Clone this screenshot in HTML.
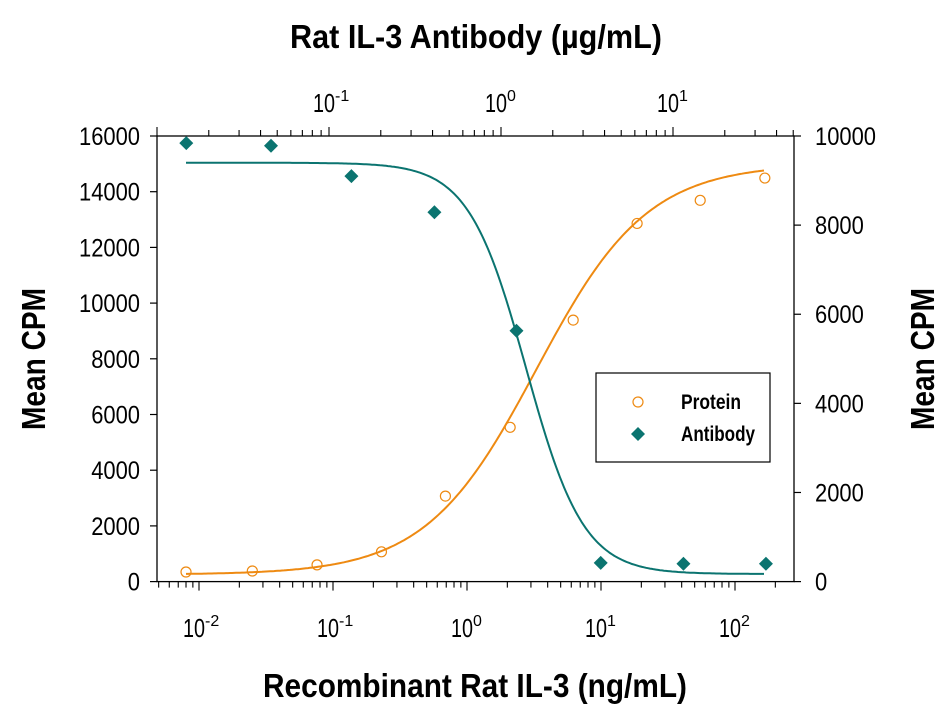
<!DOCTYPE html>
<html><head><meta charset="utf-8"><style>
html,body{margin:0;padding:0;background:#fff;}
svg{display:block;font-family:"Liberation Sans Narrow","Liberation Sans",sans-serif;}
</style></head><body>
<svg id="chart" width="951" height="714" viewBox="0 0 951 714" xmlns="http://www.w3.org/2000/svg">
<g id="axes"></g>
<g id="series"></g>
<text x="476" y="48" text-anchor="middle" font-size="33" font-weight="bold" textLength="372" lengthAdjust="spacingAndGlyphs">Rat IL-3 Antibody (µg/mL)</text>
<text x="475" y="697" text-anchor="middle" font-size="33" font-weight="bold" textLength="424" lengthAdjust="spacingAndGlyphs">Recombinant Rat IL-3 (ng/mL)</text>
<text transform="translate(45,359) rotate(-90)" text-anchor="middle" font-size="33" font-weight="bold" textLength="142" lengthAdjust="spacingAndGlyphs">Mean CPM</text>
<text transform="translate(934,359) rotate(-90)" text-anchor="middle" font-size="33" font-weight="bold" textLength="142" lengthAdjust="spacingAndGlyphs">Mean CPM</text>
<g>
<rect x="596" y="373" width="174" height="89" fill="#fff" stroke="#000" stroke-width="1.2"/>
<circle cx="638" cy="402" r="5" fill="none" stroke="#ee8a12" stroke-width="1.2"/>
<text x="681" y="409" font-size="21" font-weight="bold" textLength="60" lengthAdjust="spacingAndGlyphs">Protein</text>
<path d="M638,427 l7,7 l-7,7 l-7,-7z" fill="#0b7470"/>
<text x="681" y="441" font-size="21" font-weight="bold" textLength="74" lengthAdjust="spacingAndGlyphs">Antibody</text>
</g>
</svg>
<script>
const proteinX=[0.008,0.025,0.076,0.23,0.69,2.1,6.2,18.6,55,167];
const proteinY=[345,380,600,1070,3070,5540,9390,12860,13690,14490];
const antibodyX=[0.0148,0.046,0.135,0.41,1.23,3.8,11.5,34.7];
const antibodyY=[9840,9780,9100,8290,5630,420,400,400];
const proteinFit=[250,15000,3.3,1.05];   // bottom, top, EC50, hill
const antibodyFit=[170,9400,1.4,2.6];
const leftTicks=[0,2000,4000,6000,8000,10000,12000,14000,16000];
const rightTicks=[0,2000,4000,6000,8000,10000];
const bottomDecades=[-2,-1,0,1,2];
const topDecades=[-1,0,1];

const NS="http://www.w3.org/2000/svg";
const L=157,R=794,T=136,B=581.6;
const xB=v=>467+134*Math.log10(v);
const xT=v=>501+172*Math.log10(v);
const yL=v=>B-(B-T)*v/16000;
const yR=v=>B-(B-T)*v/10000;
function mk(tag,attrs,parent){const e=document.createElementNS(NS,tag);for(const k in attrs)e.setAttribute(k,attrs[k]);parent.appendChild(e);return e;}
const ax=document.getElementById('axes'),se=document.getElementById('series');
let fr=mk('rect',{x:L,y:T,width:R-L,height:B-T,fill:'none',stroke:'#000','stroke-width':1.3},ax);


function numLen(s){return s.length*12.2;}
leftTicks.forEach(v=>{const y=yL(v);
 let t=mk('line',{x1:L-7,x2:L,y1:y,y2:y,stroke:'#000','stroke-width':1.2},ax);
 
 
 let tx=mk('text',{x:140,y:y+9,'text-anchor':'end','font-size':25,textLength:numLen(String(v)),lengthAdjust:'spacingAndGlyphs'},ax);tx.textContent=v;
 
 });
rightTicks.forEach(v=>{const y=yR(v);
 let t=mk('line',{x1:R,x2:R+7,y1:y,y2:y,stroke:'#000','stroke-width':1.2},ax);
 
 
 let tx=mk('text',{x:815,y:y+9,'font-size':25,textLength:numLen(String(v)),lengthAdjust:'spacingAndGlyphs'},ax);tx.textContent=v;
 
 });
function logTicks(decs,xf,y,dir,labY,name){
 const lo=decs[0]-1,hi=decs[decs.length-1]+1;
 for(let d=lo;d<=hi;d++)for(let m=1;m<10;m++){const x=xf(m*Math.pow(10,d));if(x<L-1||x>R+1)continue;
  const len=m===1?9:6;
  let t=mk('line',{x1:x,x2:x,y1:y,y2:y+dir*len,stroke:'#000','stroke-width':1.1},ax);
  
  }
 decs.forEach(d=>{const x=xf(Math.pow(10,d));
  let tx=mk('text',{x:x-16,y:labY,'font-size':26},ax);
  
  
  let b=mk('tspan',{textLength:22,lengthAdjust:'spacingAndGlyphs'},tx);b.textContent='10';
  let s=mk('tspan',{dy:-11,'font-size':16},tx);s.textContent=String(d);});
}
logTicks(bottomDecades,xB,B,1,637,'bottom');
logTicks(topDecades,xT,T,-1,112,'top');
function curve(fit,inv,yf,color,name,rising){
 let d='';for(let px=186;px<=765;px+=2){const x=inv(px);
  const r=Math.pow(x/fit[2],fit[3]);
  const v=rising?fit[0]+(fit[1]-fit[0])*r/(1+r):fit[0]+(fit[1]-fit[0])/(1+r);
  d+=(d?'L':'M')+px+','+yf(v).toFixed(1);}
 let p=mk('path',{d:d,fill:'none',stroke:color,'stroke-width':2},se);
 
 
}
curve(proteinFit,px=>Math.pow(10,(px-467)/134),yL,'#ee8a12','protein-fit-curve',true);
curve(antibodyFit,px=>Math.pow(10,(px-501)/172),yR,'#0b7470','antibody-fit-curve',false);
proteinX.forEach((v,i)=>{
 let c=mk('circle',{cx:xB(v),cy:yL(proteinY[i]),r:5,fill:'none',stroke:'#ee8a12','stroke-width':1.2},se);
 
 });
antibodyX.forEach((v,i)=>{const x=xT(v),y=yR(antibodyY[i]);
 let p=mk('path',{d:`M${x},${y-7} l7,7 l-7,7 l-7,-7z`,fill:'#0b7470'},se);
 
 });
</script>
</body></html>
